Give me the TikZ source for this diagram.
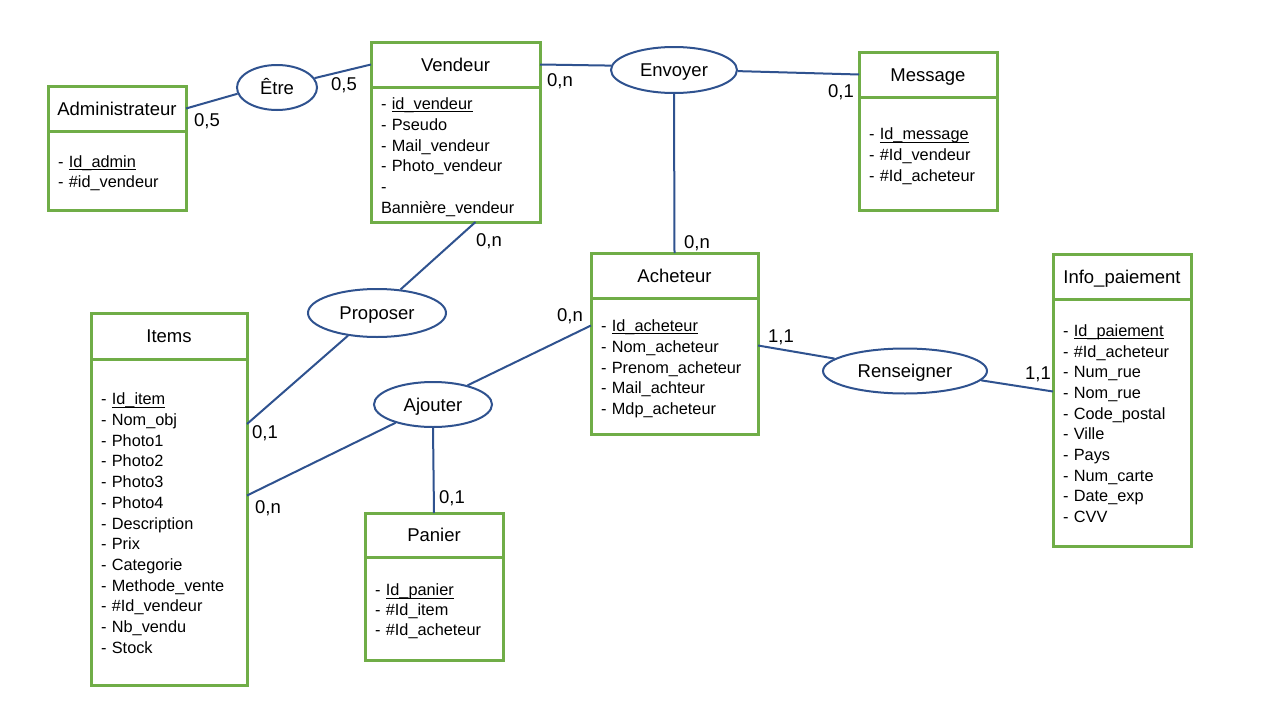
\documentclass[tikz,border=0pt]{standalone}
\usepackage{fontspec}
\setmainfont{Liberation Sans}
\usetikzlibrary{shapes.geometric,calc}

\definecolor{entgreen}{RGB}{112,173,71}
\definecolor{relblue}{RGB}{47,82,143}

% key attribute: text with a rule drawn just below the baseline
\newsavebox{\keybox}
\newcommand{\keyattr}[1]{\sbox{\keybox}{#1}\rlap{\rule[-2.6pt]{\wd\keybox}{0.9pt}}\usebox{\keybox}}
\newcommand{\titlefont}{\fontsize{18.5}{22}\selectfont}
\newcommand{\attrfont}{\fontsize{16.3}{20.7}\selectfont}

\tikzset{
  enthead/.style={draw=entgreen, line width=3pt, rectangle, inner sep=0pt,
    outer sep=0pt, font=\titlefont, text height=13.5pt, text depth=0pt,
    anchor=north west},
  entbody/.style={draw=entgreen, line width=3pt, rectangle, inner xsep=10pt,
    inner ysep=0pt, outer sep=0pt, align=left, font=\attrfont, anchor=north,
    % fixed line boxes for the first and last attribute lines
    execute at begin node={\rule{0pt}{17.5pt}},
    execute at end node={\rule[-3.5pt]{0pt}{3.5pt}}},
  relation/.style={draw=relblue, line width=2pt, ellipse, inner sep=0pt,
    font=\titlefont, text height=13.5pt, text depth=0pt},
  link/.style={draw=relblue, line width=2pt},
  card/.style={font=\titlefont, inner sep=0pt, text height=13.2pt, text depth=0pt},
}

\begin{document}
\begin{tikzpicture}[x=1pt, y=-1pt]
\useasboundingbox[fill=white] (0,0) rectangle (1280,720);

% ---------- entities ----------
\node[enthead, minimum width=138pt, minimum height=45pt] (admin) at (48,86) {Administrateur};
\node[entbody, text width=118pt, minimum width=138pt, minimum height=79pt] (adminb) at (admin.south)
  {- \keyattr{Id\_admin}\\- \#id\_vendeur};

\node[enthead, minimum width=169pt, minimum height=45pt] (vend) at (371,42) {Vendeur};
\node[entbody, text width=149pt, minimum width=169pt, minimum height=135pt] (vendb) at (vend.south)
  {- \keyattr{id\_vendeur}\\- Pseudo\\- Mail\_vendeur\\- Photo\_vendeur\\-\\Bannière\_vendeur};

\node[enthead, minimum width=138pt, minimum height=45pt] (msg) at (859,52) {Message};
\node[entbody, text width=118pt, minimum width=138pt, minimum height=113pt] (msgb) at (msg.south)
  {- \keyattr{Id\_message}\\- \#Id\_vendeur\\- \#Id\_acheteur};

\node[enthead, minimum width=167pt, minimum height=45pt] (ach) at (591,253) {Acheteur};
\node[entbody, text width=147pt, minimum width=167pt, minimum height=136pt] (achb) at (ach.south)
  {- \keyattr{Id\_acheteur}\\- Nom\_acheteur\\- Prenom\_acheteur\\- Mail\_achteur\\- Mdp\_acheteur};

\node[enthead, minimum width=138pt, minimum height=45pt] (info) at (1053,254) {Info\_paiement};
\node[entbody, text width=118pt, minimum width=138pt, minimum height=247pt] (infob) at (info.south)
  {- \keyattr{Id\_paiement}\\- \#Id\_acheteur\\- Num\_rue\\- Nom\_rue\\- Code\_postal\\- Ville\\- Pays\\- Num\_carte\\- Date\_exp\\- CVV};

\node[enthead, minimum width=156pt, minimum height=46pt] (items) at (91,313) {Items};
\node[entbody, text width=136pt, minimum width=156pt, minimum height=326pt] (itemsb) at (items.south)
  {- \keyattr{Id\_item}\\- Nom\_obj\\- Photo1\\- Photo2\\- Photo3\\- Photo4\\- Description\\- Prix\\- Categorie\\- Methode\_vente\\- \#Id\_vendeur\\- Nb\_vendu\\- Stock};

\node[enthead, minimum width=138pt, minimum height=44pt] (panier) at (365,513) {Panier};
\node[entbody, font=\fontsize{16.3}{19.6}\selectfont, text width=118pt, minimum width=138pt,
  minimum height=103pt] (panierb) at (panier.south)
  {- \keyattr{Id\_panier}\\- \#Id\_item\\- \#Id\_acheteur};

% ---------- relations ----------
\node[relation, minimum width=80pt, minimum height=45pt] (etre) at (277,87.5) {Être};
\node[relation, minimum width=126pt, minimum height=46pt] (envoyer) at (674,70) {Envoyer};
\node[relation, minimum width=138pt, minimum height=48pt] (proposer) at (377,313) {Proposer};
\node[relation, minimum width=118pt, minimum height=45pt] (ajouter) at (433,404.5) {Ajouter};
\node[relation, minimum width=164pt, minimum height=45pt] (renseigner) at (905,371) {Renseigner};

% ---------- connectors ----------
\draw[link] (admin.east) -- (etre.189);
\draw[link] (etre.14) -- (vend.west);
\draw[link] (vend.east) -- (envoyer.176);
\draw[link] (envoyer.-1) -- (msg.west);
\draw[link] (envoyer.south) -- (ach.north);
\draw[link] ($(vendb.south)+(20,0)$) -- (proposer.45);
\draw[link] (proposer.218) -- ($(itemsb.east)+(0,-98)$);
\draw[link] (ajouter.29) -- ($(achb.west)+(0,-40.5)$);
\draw[link] (ajouter.206.6) -- ($(itemsb.east)+(0,-26.5)$);
\draw[link] (ajouter.south) -- (panier.north);
\draw[link] ($(achb.east)+(0,-20.5)$) -- (renseigner.170);
\draw[link] (renseigner.-7.4) -- ($(infob.west)+(0,-31)$);

% ---------- cardinalities ----------
\node[card] (c1) at (207,120) {0,5};
\node[card] (c2) at (344,84) {0,5};
\node[card] (c3) at (560,80) {0,n};
\node[card] (c4) at (841,91) {0,1};
\node[card] (c5) at (697,242) {0,n};
\node[card] (c6) at (489,240) {0,n};
\node[card] (c7) at (570,315) {0,n};
\node[card] (c8) at (781,336) {1,1};
\node[card] (c9) at (1038,373) {1,1};
\node[card] (c10) at (265,432) {0,1};
\node[card] (c11) at (268,507) {0,n};
\node[card] (c12) at (452,497) {0,1};
\end{tikzpicture}
\end{document}
